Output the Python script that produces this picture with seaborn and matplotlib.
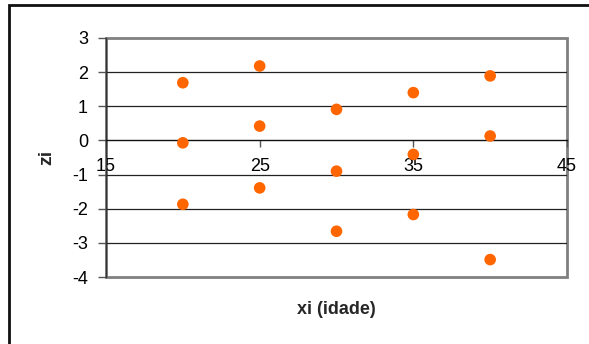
import pandas as pd
import matplotlib
matplotlib.use('Agg')
import matplotlib.pyplot as plt
from matplotlib.patches import Rectangle
import seaborn as sns

# dados
idade = [20, 25, 30, 35, 40]
z_alto = [1.69, 2.18, 0.91, 1.40, 1.89]
z_meio = [-0.07, 0.42, -0.90, -0.41, 0.13]
z_baixo = [-1.87, -1.39, -2.66, -2.17, -3.49]

x_ticks = [15, 25, 35, 45]
y_ticks = [3, 2, 1, 0, -1, -2, -3, -4]

sns.set_style('white')
plt.rcParams['font.family'] = ['Liberation Sans', 'DejaVu Sans']
plt.rcParams['axes.unicode_minus'] = False

df = pd.DataFrame({
    'xi': idade * 3,
    'zi': z_alto + z_meio + z_baixo,
})

fig = plt.figure(figsize=(5.89, 3.44), dpi=100)
ax = fig.add_axes([106 / 589, 1 - 277 / 344, 461 / 589, 239 / 344])

# moldura externa (só esquerda e topo aparecem)
fig.add_artist(Rectangle((9 / 589, -0.1), 1.2, 1.1 - 5 / 344,
                         transform=fig.transFigure, fill=False,
                         edgecolor='#111111', linewidth=2))

sns.scatterplot(data=df, x='xi', y='zi', ax=ax, color='#FF6600',
                s=70, edgecolor='none', zorder=5, clip_on=False)

ax.set_xlim(15, 45)
ax.set_ylim(-4, 3)
ax.set_xticks(x_ticks)
ax.set_yticks(y_ticks)

# linhas de grade
for y in y_ticks:
    if y not in (0, 3, -4):
        ax.axhline(y, color='#222222', linewidth=0.9, zorder=1)

# moldura da área de plotagem em cinza
ax.patch.set_edgecolor('#808080')
ax.patch.set_linewidth(2)
for s in ['top', 'right']:
    ax.spines[s].set_visible(False)
ax.spines['left'].set_color('#333333')
ax.spines['left'].set_linewidth(1)
ax.spines['bottom'].set_position(('data', 0))
ax.spines['bottom'].set_color('#111111')
ax.spines['bottom'].set_linewidth(1)

ax.tick_params(axis='x', direction='out', length=5, width=1, color='#555555',
               pad=8, labelsize=13, labelcolor='black')
ax.tick_params(axis='y', direction='out', length=6, width=1, color='#555555',
               pad=7, labelsize=13, labelcolor='black')
ax.xaxis.set_ticks_position('bottom')
ax.yaxis.set_ticks_position('left')

ax.set_xlabel('')
ax.set_ylabel('')
fig.text(336 / 589, 1 - 310 / 344, 'xi (idade)', ha='center', va='center',
         fontsize=13, fontweight='bold')
fig.text(47 / 589, 1 - 157 / 344, 'zi', ha='center', va='center',
         rotation=90, fontsize=14, fontweight='bold')

plt.savefig('out.png', dpi=100)
plt.close()
